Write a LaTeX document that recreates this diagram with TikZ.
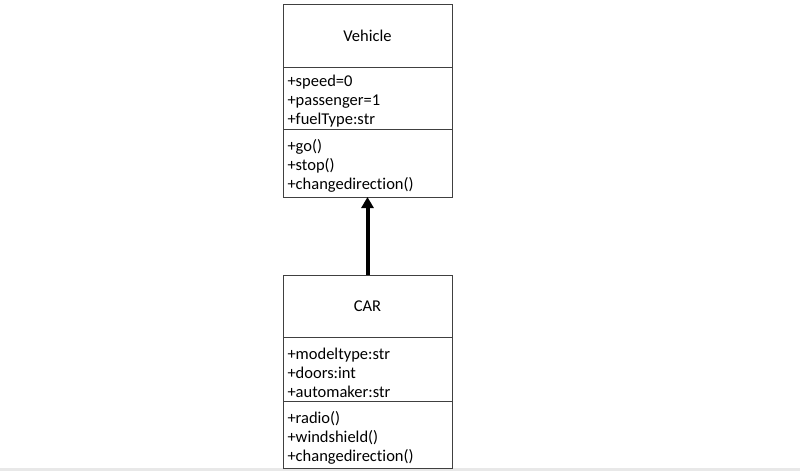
\documentclass[tikz,border=0pt]{standalone}
\usepackage{fontspec}
\setmainfont{Carlito}[Ligatures={NoCommon}]
\usetikzlibrary{positioning,arrows.meta}

\begin{document}
\begin{tikzpicture}[
  x=1pt, y=1pt,
  >={Triangle[length=11pt,width=12pt]},
  box/.style={draw=black!75, line width=0.8pt, outer sep=0pt, minimum width=169pt,
              font=\fontsize{16.5}{19}\selectfont},
  title/.style={box, minimum height=63pt},
  members/.style={box, text width=160pt, inner xsep=4.5pt, inner ysep=0pt, align=left,
                  execute at begin node={\rule{0pt}{18.5pt}}},
  inherit/.style={->, line width=4pt}
]
\useasboundingbox (0,0) rectangle (800,-471);
\fill[black!9] (0,-468) rectangle (800,-471);

% Vehicle class
\node[title] (vehicle) at (367.5,-35.5) {Vehicle};
\node[members, minimum height=62pt, below=0pt of vehicle] (vehattr)
  {+speed=0\\+passenger=1\\+fuelType:str};
\node[members, minimum height=68pt, below=0pt of vehattr] (vehmeth)
  {+go()\\+stop()\\+changedirection()};

% CAR class
\node[title, minimum height=62pt] (car) at (367.5,-306) {CAR};
\node[members, minimum height=64pt, below=0pt of car] (carattr)
  {+modeltype:str\\+doors:int\\+automaker:str};
\node[members, minimum height=67pt, below=0pt of carattr] (carmeth)
  {+radio()\\+windshield()\\+changedirection()};

\draw[inherit] (car) -- (vehmeth);
\end{tikzpicture}
\end{document}
